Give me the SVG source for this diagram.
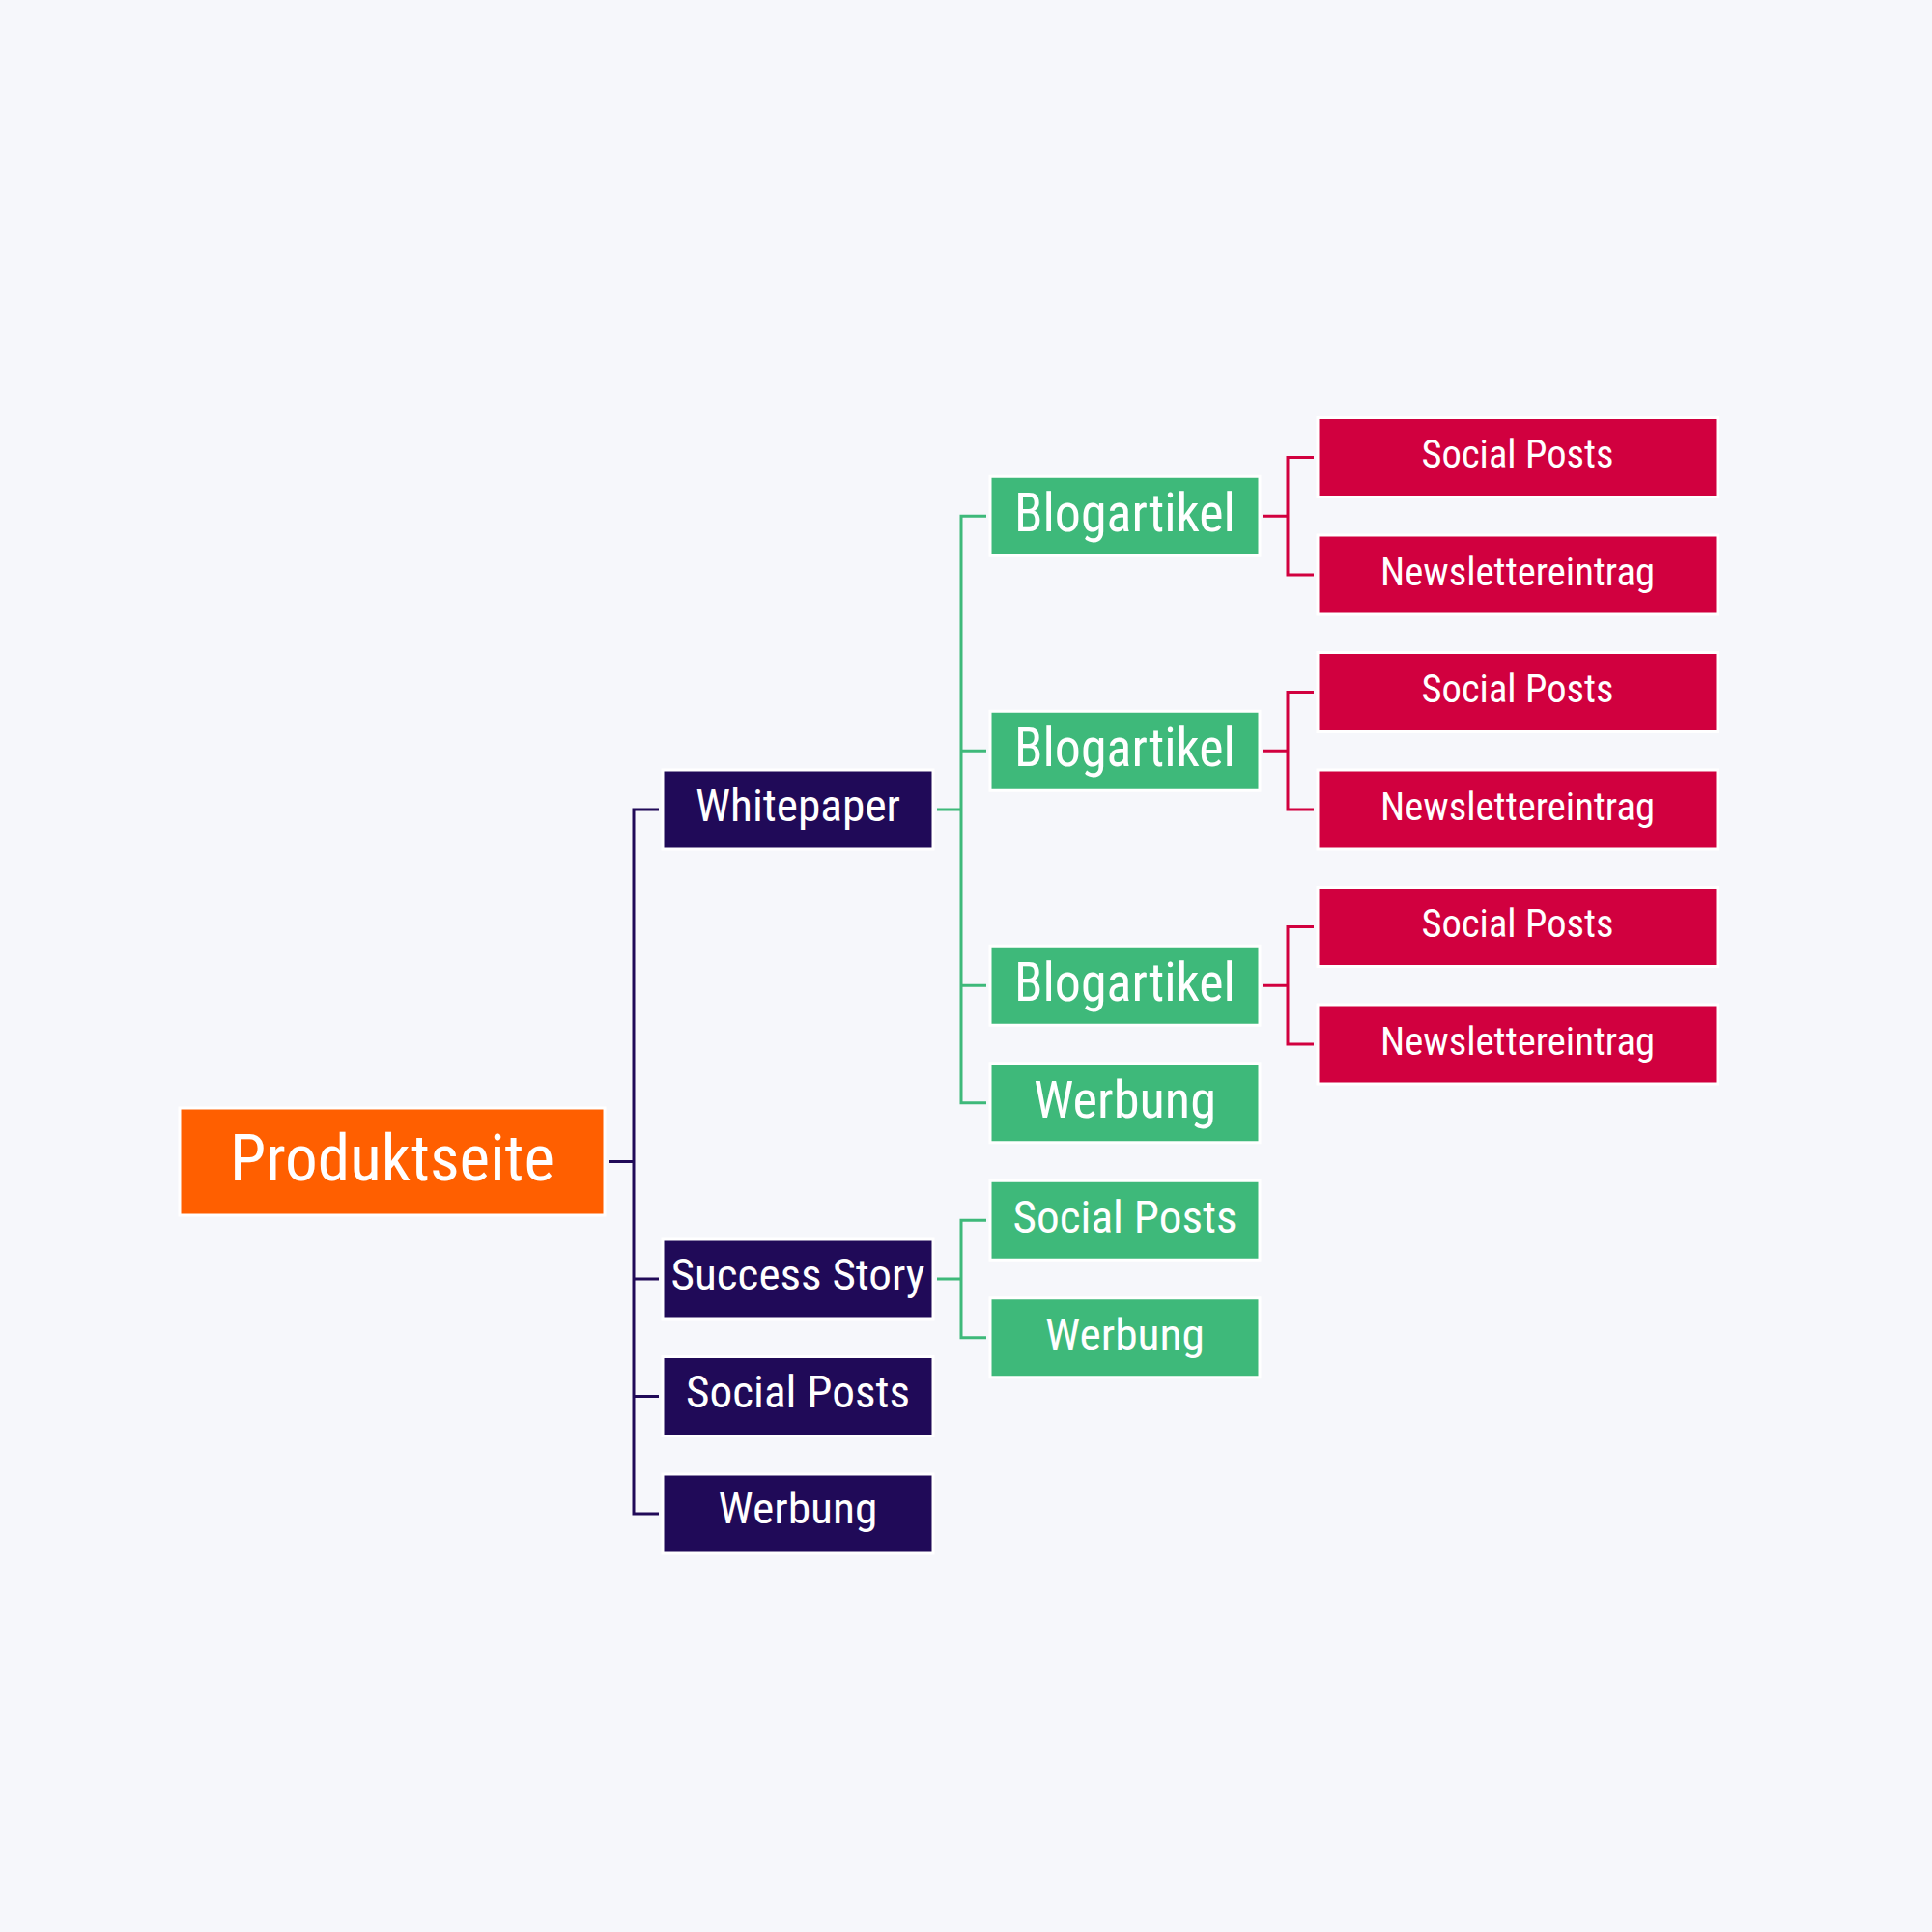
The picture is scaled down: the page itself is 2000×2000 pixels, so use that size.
<svg xmlns="http://www.w3.org/2000/svg" width="2000" height="2000" viewBox="0 0 2000 2000">
<style>
.bg{fill:#f6f7fb}
.box{stroke:#ffffff;stroke-width:3}
.root{fill:#ff5f00}
.dark{fill:#200a58}
.green{fill:#3eb97a}
.red{fill:#d1003f}
text{font-family:"Roboto Condensed",Roboto,"Liberation Sans",sans-serif;fill:#ffffff;text-anchor:middle}
.c{fill:none;stroke-width:3}
.cd{stroke:#200a58}
.cg{stroke:#3eb97a}
.cr{stroke:#d1003f}
</style>
<rect class="bg" x="0" y="0" width="2000" height="2000"/>
<g id="connectors">
<path class="c cd" d="M630 1202.5H656M682 838H656V1567H682M656 1324H682M656 1445.5H682"/>
<path class="c cg" d="M970 838H995M1021 534.25H995V1141.75H1021M995 777.25H1021M995 1020.25H1021"/>
<path class="c cg" d="M970 1324H995M1021 1263.25H995V1384.75H1021"/>
<path class="c cr" d="M1307 534.25H1333M1360 473.5H1333V595H1360"/>
<path class="c cr" d="M1307 777.25H1333M1360 716.5H1333V838H1360"/>
<path class="c cr" d="M1307 1020.25H1333M1360 959.5H1333V1081H1360"/>
</g>
<g id="produktseite"><rect class="box root" x="186" y="1147" width="440" height="111"/><text x="406" y="1222" font-size="66" textLength="336" lengthAdjust="spacingAndGlyphs">Produktseite</text></g>
<g id="whitepaper"><rect class="box dark" x="686" y="797" width="280" height="82"/><text x="826" y="850" font-size="46" textLength="212" lengthAdjust="spacingAndGlyphs">Whitepaper</text></g>
<g id="success-story"><rect class="box dark" x="686" y="1283" width="280" height="82"/><text x="826" y="1335" font-size="45" textLength="263" lengthAdjust="spacingAndGlyphs">Success Story</text></g>
<g id="social-posts-dark"><rect class="box dark" x="686" y="1404.5" width="280" height="82"/><text x="826" y="1457" font-size="46" textLength="232" lengthAdjust="spacingAndGlyphs">Social Posts</text></g>
<g id="werbung-dark"><rect class="box dark" x="686" y="1526" width="280" height="82"/><text x="826" y="1577" font-size="45" textLength="165" lengthAdjust="spacingAndGlyphs">Werbung</text></g>
<g id="blogartikel-1"><rect class="box green" x="1025" y="493.25" width="279" height="82"/><text x="1164.5" y="549.5" font-size="56" textLength="229" lengthAdjust="spacingAndGlyphs">Blogartikel</text></g>
<g id="blogartikel-2"><rect class="box green" x="1025" y="736.25" width="279" height="82"/><text x="1164.5" y="792.5" font-size="56" textLength="229" lengthAdjust="spacingAndGlyphs">Blogartikel</text></g>
<g id="blogartikel-3"><rect class="box green" x="1025" y="979.25" width="279" height="82"/><text x="1164.5" y="1035.5" font-size="56" textLength="229" lengthAdjust="spacingAndGlyphs">Blogartikel</text></g>
<g id="werbung-green-1"><rect class="box green" x="1025" y="1100.75" width="279" height="82"/><text x="1164.5" y="1157" font-size="54" textLength="189" lengthAdjust="spacingAndGlyphs">Werbung</text></g>
<g id="social-posts-green"><rect class="box green" x="1025" y="1222.25" width="279" height="82"/><text x="1164.5" y="1276" font-size="46" textLength="232" lengthAdjust="spacingAndGlyphs">Social Posts</text></g>
<g id="werbung-green-2"><rect class="box green" x="1025" y="1343.75" width="279" height="82"/><text x="1164.5" y="1397" font-size="45" textLength="165" lengthAdjust="spacingAndGlyphs">Werbung</text></g>
<g id="social-posts-red-1"><rect class="box red" x="1364" y="432.5" width="414" height="82"/><text x="1571" y="484" font-size="40" textLength="199" lengthAdjust="spacingAndGlyphs">Social Posts</text></g>
<g id="newsletter-1"><rect class="box red" x="1364" y="554" width="414" height="82"/><text x="1571" y="606" font-size="40" textLength="284" lengthAdjust="spacingAndGlyphs">Newslettereintrag</text></g>
<g id="social-posts-red-2"><rect class="box red" x="1364" y="675.5" width="414" height="82"/><text x="1571" y="727" font-size="40" textLength="199" lengthAdjust="spacingAndGlyphs">Social Posts</text></g>
<g id="newsletter-2"><rect class="box red" x="1364" y="797" width="414" height="82"/><text x="1571" y="849" font-size="40" textLength="284" lengthAdjust="spacingAndGlyphs">Newslettereintrag</text></g>
<g id="social-posts-red-3"><rect class="box red" x="1364" y="918.5" width="414" height="82"/><text x="1571" y="970" font-size="40" textLength="199" lengthAdjust="spacingAndGlyphs">Social Posts</text></g>
<g id="newsletter-3"><rect class="box red" x="1364" y="1040" width="414" height="82"/><text x="1571" y="1092" font-size="40" textLength="284" lengthAdjust="spacingAndGlyphs">Newslettereintrag</text></g>
</svg>
